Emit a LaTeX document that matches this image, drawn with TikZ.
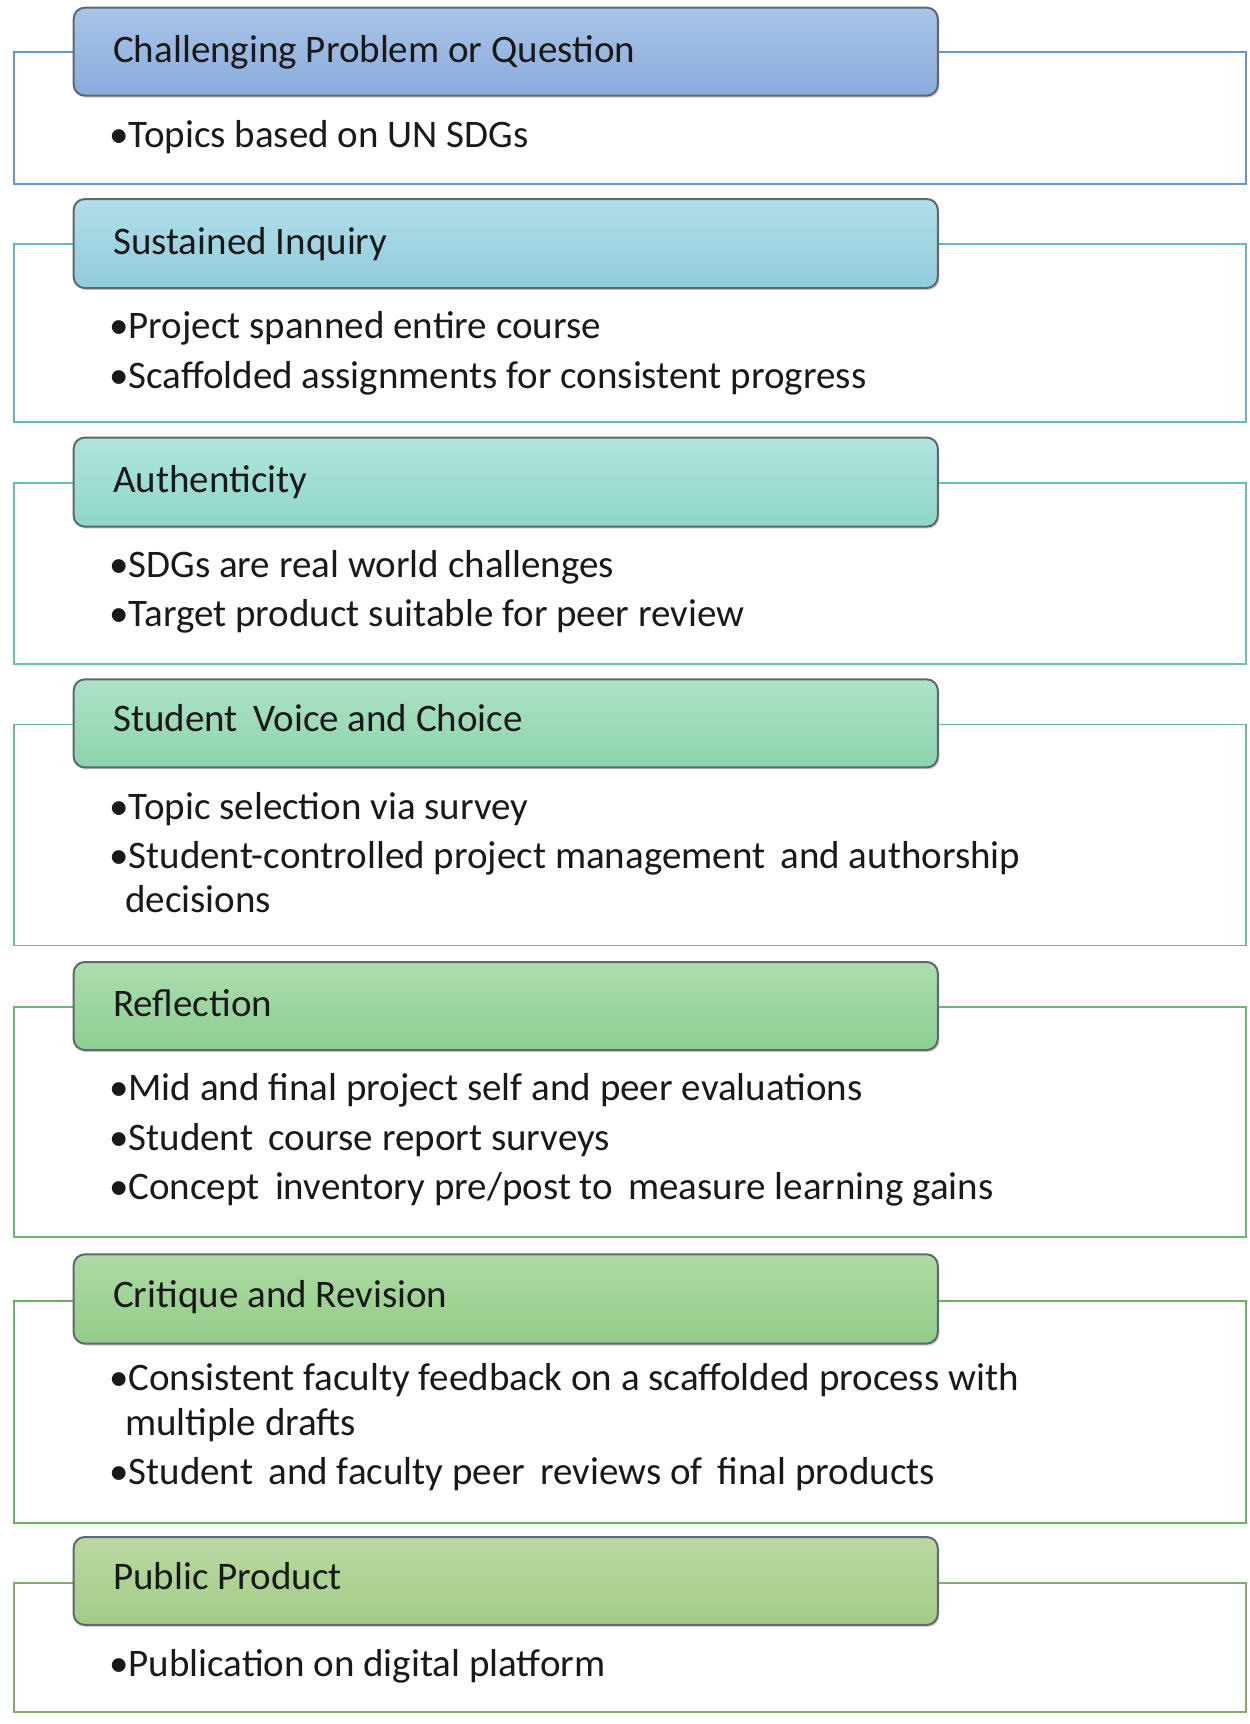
\documentclass[tikz,border=0pt]{standalone}
\usepackage{fontspec}
\setmainfont{Carlito}
\usetikzlibrary{shadows}
\definecolor{hA1}{HTML}{A9C4E8}\definecolor{hA2}{HTML}{89ABDB}\definecolor{oA}{HTML}{6496CF}
\definecolor{hB1}{HTML}{B2DEEA}\definecolor{hB2}{HTML}{90CCDC}\definecolor{oB}{HTML}{62B6C8}
\definecolor{hC1}{HTML}{B0E5DD}\definecolor{hC2}{HTML}{8ED6C8}\definecolor{oC}{HTML}{64C0B2}
\definecolor{hD1}{HTML}{ADE2C8}\definecolor{hD2}{HTML}{8CD4AB}\definecolor{oD}{HTML}{63BC92}
\definecolor{hE1}{HTML}{ACDDAF}\definecolor{hE2}{HTML}{8CCF92}\definecolor{oE}{HTML}{69B870}
\definecolor{hF1}{HTML}{AEDBA4}\definecolor{hF2}{HTML}{92CC88}\definecolor{oF}{HTML}{6CB161}
\definecolor{hG1}{HTML}{BAD9A3}\definecolor{hG2}{HTML}{A3CB86}\definecolor{oG}{HTML}{82AD62}
\definecolor{hborder}{HTML}{5E6870}
\tikzset{
  outerbox/.style={draw=#1, line width=1.9pt},
  headbox/.style n args={2}{draw=hborder, line width=2pt, rounded corners=11pt,
     top color=#1, bottom color=#2, drop shadow={shadow xshift=1.5pt, shadow yshift=-2pt, opacity=0.35}},
  ttl/.style={anchor=base west, font=\fontsize{39}{47}\selectfont, inner sep=0pt, text=black!90},
  itm/.style={anchor=base west, font=\fontsize{39}{47}\selectfont, inner sep=0pt, text=black!90},
}
\begin{document}
\begin{tikzpicture}[x=1pt,y=-1pt]
\useasboundingbox (0,0) rectangle (1250,1724);
\fill[white] (0,0) rectangle (1250,1724);
% Box 1
\draw[outerbox=oA] (14.3,51.7) rectangle (1245.6,183.6);
\path[headbox={hA1}{hA2}] (73.7,7.7) rectangle (937.8,95.6);
\node[ttl] (t1) at (113,62.5) {Challenging Problem or Question};
\node[itm] (b11) at (109,147) {\textbullet Topics based on UN SDGs};
% Box 2
\draw[outerbox=oB] (14.3,244.1) rectangle (1245.6,422.2);
\path[headbox={hB1}{hB2}] (73.7,199) rectangle (937.8,288);
\node[ttl] (t2) at (113,254) {Sustained Inquiry};
\node[itm] (b21) at (109,338.5) {\textbullet Project spanned entire course};
\node[itm] (b22) at (109,388) {\textbullet Scaffolded assignments for consistent progress};
% Box 3
\draw[outerbox=oC] (14.3,482.6) rectangle (1245.6,664);
\path[headbox={hC1}{hC2}] (73.7,437.6) rectangle (937.8,526.6);
\node[ttl] (t3) at (113,492.5) {Authenticity};
\node[itm] (b31) at (109,577) {\textbullet SDGs are real world challenges};
\node[itm] (b32) at (109,626.5) {\textbullet Target product suitable for peer review};
% Box 4
\draw[outerbox=oD] (14.3,724.5) rectangle (1245.6,945.5);
\path[headbox={hD1}{hD2}] (73.7,679.4) rectangle (937.8,767.4);
\node[ttl] (t4) at (113,731) {Student\, Voice and Choice};
\node[itm] (b41) at (109,819) {\textbullet Topic selection via survey};
\node[itm] (b42) at (109,868.5) {\textbullet Student-controlled project management\, and authorship};
\node[itm] (b43) at (125,912.5) {decisions};
% Box 5
\draw[outerbox=oE] (14.3,1007) rectangle (1245.6,1236.8);
\path[headbox={hE1}{hE2}] (73.7,962) rectangle (937.8,1050);
\node[ttl] (t5) at (113,1016) {Reflection};
\node[itm] (b51) at (109,1100.5) {\textbullet Mid and final project self and peer evaluations};
\node[itm] (b52) at (109,1150) {\textbullet Student\, course report surveys};
\node[itm] (b53) at (109,1199.5) {\textbullet Concept\, inventory pre/post to\, measure learning gains};
% Box 6
\draw[outerbox=oF] (14.3,1300.6) rectangle (1245.6,1522.7);
\path[headbox={hF1}{hF2}] (73.7,1254.4) rectangle (937.8,1343.5);
\node[ttl] (t6) at (113,1307) {Critique and Revision};
\node[itm] (b61) at (109,1390.5) {\textbullet Consistent faculty feedback on a scaffolded process with};
\node[itm] (b62) at (125,1435.5) {multiple drafts};
\node[itm] (b63) at (109,1484.5) {\textbullet Student\, and faculty peer\, reviews of\, final products};
% Box 7
\draw[outerbox=oG] (14.3,1583.1) rectangle (1245.6,1711.8);
\path[headbox={hG1}{hG2}] (73.7,1537) rectangle (937.8,1624.9);
\node[ttl] (t7) at (113,1589.5) {Public Product};
\node[itm] (b71) at (109,1676.5) {\textbullet Publication on digital platform};
\end{tikzpicture}
\end{document}
